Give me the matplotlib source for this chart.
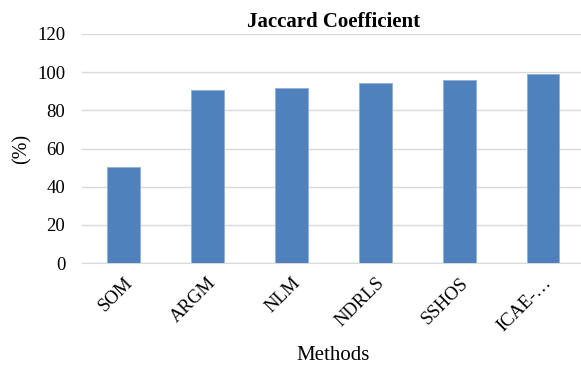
import matplotlib.pyplot as plt

methods = ['SOM', 'ARGM', 'NLM', 'NDRLS', 'SSHOS', 'ICAE-…']
jaccard = [50.2, 90.5, 91.5, 94.2, 95.7, 99.0]
y_ticks = [0, 20, 40, 60, 80, 100, 120]

plt.rcParams['font.family'] = ['Liberation Serif', 'DejaVu Serif']

fig = plt.figure(figsize=(5.81, 3.65), dpi=100)
ax = fig.add_axes([0.141, 0.279, 0.866, 0.628])

x = range(len(methods))
ax.bar(x, jaccard, width=0.39, color='#4f81bd', edgecolor='#8fb0d9', linewidth=0.6, zorder=3)

ax.set_xlim(-0.5, len(methods) - 0.5)
ax.set_ylim(0, 120)
ax.set_yticks(y_ticks)
ax.yaxis.grid(True, color='#d9d9d9', linewidth=1.0, zorder=0)
ax.tick_params(axis='both', length=0, labelsize=13.5)
ax.tick_params(axis='y', pad=12)
ax.tick_params(axis='x', pad=8)

ax.set_xticks(list(x))
ax.set_xticklabels(methods, rotation=45, ha='right', va='top', rotation_mode='anchor')

for s in ['top', 'right', 'left']:
    ax.spines[s].set_visible(False)
ax.spines['bottom'].set_color('#d9d9d9')

ax.set_title('Jaccard Coefficient', fontsize=15, fontweight='bold', pad=5)
ax.set_ylabel('(%)', fontsize=14.5, labelpad=4)
ax.set_xlabel('Methods', fontsize=15, labelpad=8)

plt.savefig('out.png', dpi=100)
